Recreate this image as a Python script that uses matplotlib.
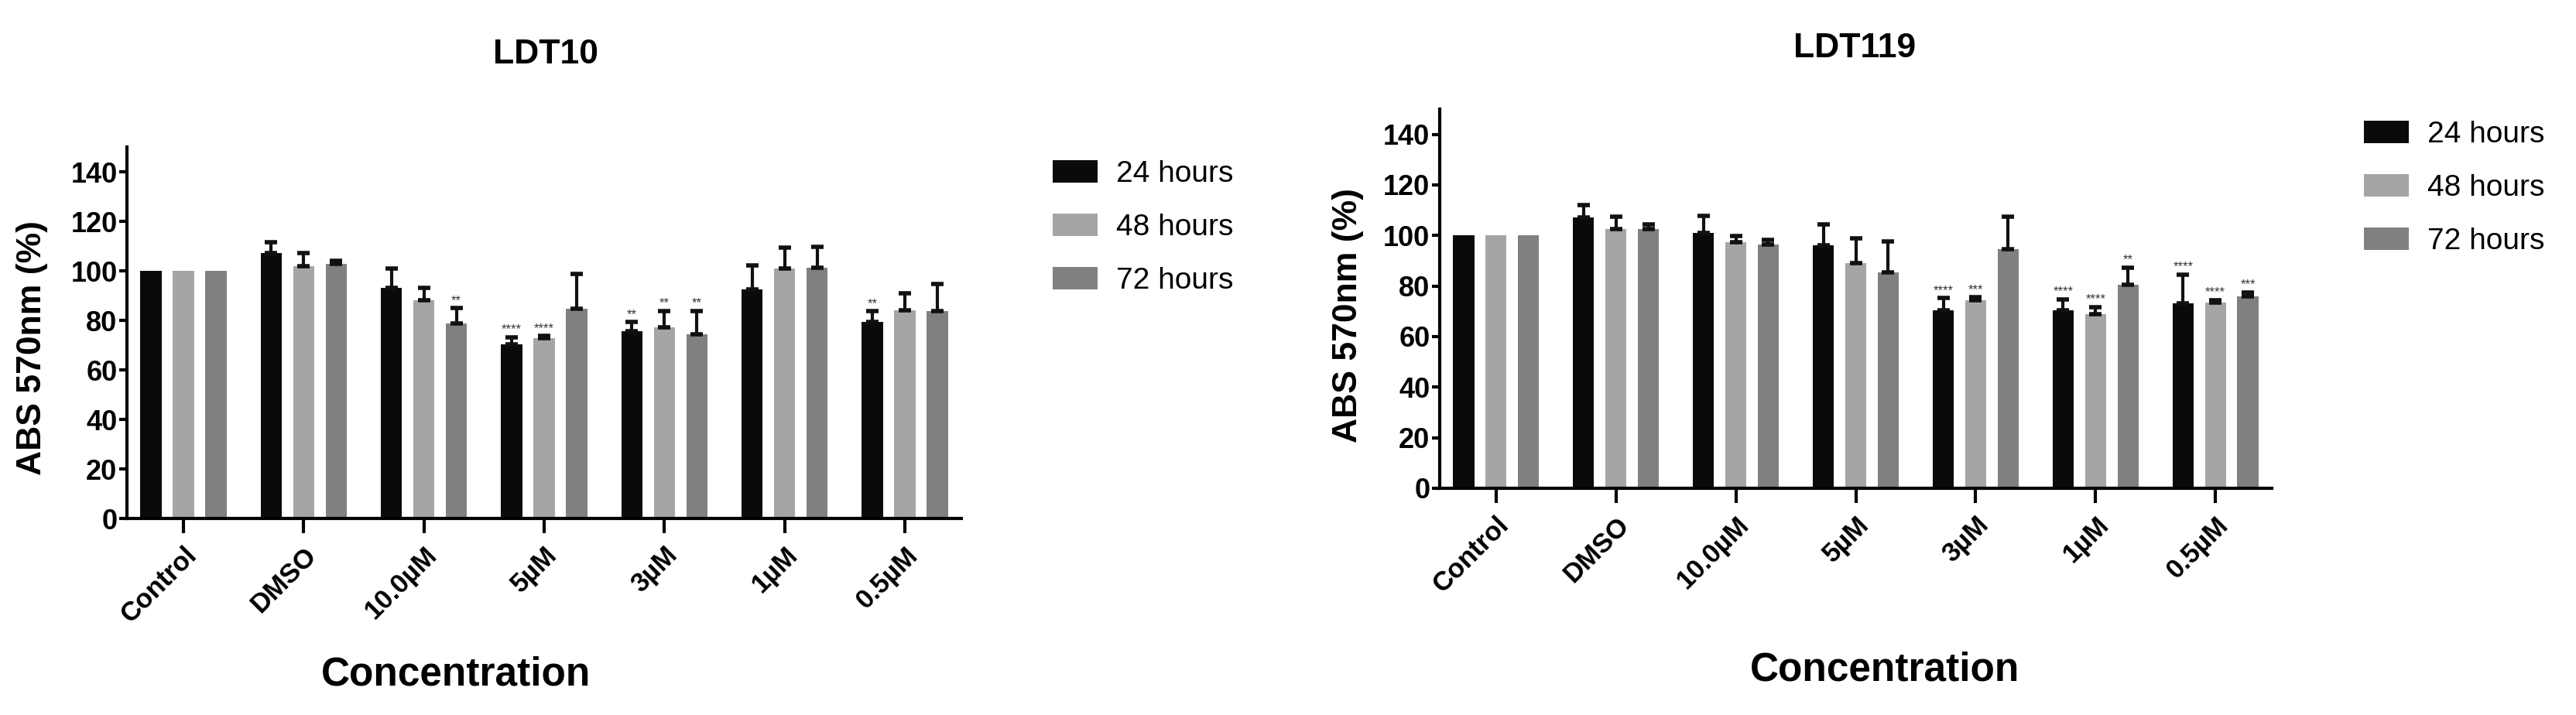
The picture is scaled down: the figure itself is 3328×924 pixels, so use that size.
import numpy as np
import matplotlib
matplotlib.use("Agg")
import matplotlib.pyplot as plt
from matplotlib.patches import Patch

plt.rcParams['font.family'] = ['Liberation Sans', 'DejaVu Sans']

# categories and series
conc = ['Control', 'DMSO', '10.0µM', '5µM', '3µM', '1µM', '0.5µM']
series = ['24 hours', '48 hours', '72 hours']
colors = ['#0a0a0a', '#a5a5a7', '#808080']

# LDT10 means / upper error
ldt10_24 = [100, 107.2, 93.2, 70.2, 75.7, 92.5, 79.4]
ldt10_48 = [100, 101.8, 88.2, 72.8, 77.2, 100.9, 84.1]
ldt10_72 = [100, 102.8, 78.6, 84.8, 74.5, 101.4, 83.8]
ldt10_24_err = [0, 4.4, 7.6, 2.9, 3.6, 9.7, 4.2]
ldt10_48_err = [0, 5.5, 4.9, 0.8, 6.6, 8.5, 6.7]
ldt10_72_err = [0, 1.2, 6.3, 13.8, 9.3, 8.3, 10.8]
ldt10_24_sig = ['', '', '', '****', '**', '', '**']
ldt10_48_sig = ['', '', '', '****', '**', '', '']
ldt10_72_sig = ['', '', '**', '', '**', '', '']

# LDT119 means / upper error
ldt119_24 = [100, 107.0, 101.0, 96.2, 70.3, 70.3, 73.3]
ldt119_48 = [100, 102.4, 97.3, 89.2, 74.4, 69.0, 73.5]
ldt119_72 = [100, 102.7, 96.4, 85.4, 94.5, 80.5, 75.9]
ldt119_24_err = [0, 4.9, 6.8, 8.1, 4.9, 4.5, 11.2]
ldt119_48_err = [0, 5.0, 2.5, 9.7, 1.1, 2.6, 0.9]
ldt119_72_err = [0, 1.6, 2.0, 12.4, 13.1, 6.7, 1.6]
ldt119_24_sig = ['', '', '', '', '****', '****', '****']
ldt119_48_sig = ['', '', '', '', '***', '****', '****']
ldt119_72_sig = ['', '', '', '', '', '**', '***']

W, H = 3328, 924
fig = plt.figure(figsize=(W / 100, H / 100), dpi=100)


def px(x0, y_top, x1, y_bot):
    # pixel box -> figure fraction
    return [x0 / W, 1 - y_bot / H, (x1 - x0) / W, (y_bot - y_top) / H]


def panel(rect, vals, errs, sigs, title, title_xy, xlab_xy, ylab_xy, leg_xy):
    ax = fig.add_axes(rect)
    x = np.arange(len(conc))
    offs = [-0.27, 0, 0.27]
    for i in range(3):
        ax.bar(x + offs[i], vals[i], width=0.175, color=colors[i], zorder=2)
        e = np.array(errs[i])
        m = e > 0
        ax.errorbar((x + offs[i])[m], np.array(vals[i])[m],
                    yerr=[np.zeros(m.sum()), e[m]],
                    fmt='none', ecolor='#111111', elinewidth=3, capsize=6,
                    capthick=4, zorder=3)
        for j in range(len(conc)):
            if sigs[i][j]:
                ax.text(x[j] + offs[i], vals[i][j] + errs[i][j] + 0.8, sigs[i][j],
                        ha='center', va='bottom', fontsize=12, color='#333333')
    ax.set_xlim(-0.47, 6.47)
    ax.set_ylim(0, 150)
    ax.set_yticks(range(0, 141, 20))
    ax.set_xticks(x)
    ax.set_xticklabels(conc, rotation=45, ha='right', rotation_mode='anchor',
                       fontsize=25, fontweight='bold')
    for lb in ax.get_yticklabels():
        lb.set_fontweight('bold')
        lb.set_fontsize(26)
    ax.spines['top'].set_visible(False)
    ax.spines['right'].set_visible(False)
    ax.spines['left'].set_linewidth(3)
    ax.spines['bottom'].set_linewidth(3)
    ax.tick_params(axis='y', length=7, width=3, pad=2)
    ax.tick_params(axis='x', length=14, width=3, pad=8)

    fig.text(title_xy[0] / W, 1 - title_xy[1] / H, title, ha='center', va='center',
             fontsize=32, fontweight='bold')
    fig.text(xlab_xy[0] / W, 1 - xlab_xy[1] / H, 'Concentration', ha='center',
             va='center', fontsize=37, fontweight='bold')
    fig.text(ylab_xy[0] / W, 1 - ylab_xy[1] / H, 'ABS 570nm (%)', ha='center',
             va='center', rotation=90, fontsize=32, fontweight='bold')

    handles = [Patch(facecolor=c, edgecolor='none') for c in colors]
    fig.legend(handles, series, loc='upper left',
               bbox_to_anchor=(leg_xy[0] / W, 1 - leg_xy[1] / H),
               frameon=False, fontsize=28, handlelength=1.5, handleheight=0.75,
               handletextpad=0.6, labelspacing=0.85, borderpad=0, borderaxespad=0)
    return ax


panel(px(164, 190, 1242, 670),
      [ldt10_24, ldt10_48, ldt10_72],
      [ldt10_24_err, ldt10_48_err, ldt10_72_err],
      [ldt10_24_sig, ldt10_48_sig, ldt10_72_sig],
      'LDT10', (705, 70), (589, 872), (42, 450), (1360, 207))

panel(px(1860, 141, 2935, 631),
      [ldt119_24, ldt119_48, ldt119_72],
      [ldt119_24_err, ldt119_48_err, ldt119_72_err],
      [ldt119_24_sig, ldt119_48_sig, ldt119_72_sig],
      'LDT119', (2396, 62), (2435, 866), (1742, 408), (3054, 156))

fig.savefig('out.png', dpi=100, facecolor='white')
